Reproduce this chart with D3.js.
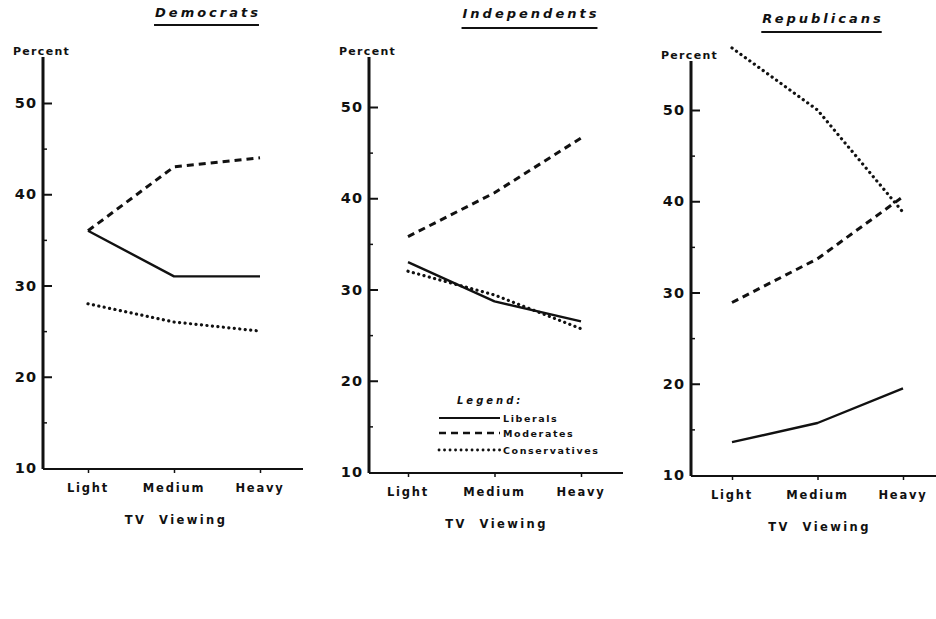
<!DOCTYPE html>
<html><head><meta charset="utf-8">
<script src="https://cdn.jsdelivr.net/npm/d3@7"></script>
<style>
html,body{margin:0;padding:0;background:#fff;}
svg{display:block;}
text{font-family:"DejaVu Sans",sans-serif;font-weight:bold;fill:#111;}
</style></head>
<body>
<svg id="c" width="936" height="619"></svg>
<script>
// ---- data ----
const categories = ["Light", "Medium", "Heavy"];
const panels = ["Democrats", "Independents", "Republicans"];
const seriesNames = ["Liberals", "Moderates", "Conservatives"];
const yTicks = [10, 20, 30, 40, 50];
const yMinorTicks = [15, 25, 35, 45];
// values per panel: [Light, Medium, Heavy]
const democratsLiberals = [36, 31, 31];
const democratsModerates = [36, 43, 44];
const democratsConservatives = [28, 26, 25];
const independentsLiberals = [33, 28.7, 26.5];
const independentsModerates = [35.8, 40.6, 46.6];
const independentsConservatives = [32, 29.4, 25.7];
const republicansLiberals = [13.6, 15.7, 19.5];
const republicansModerates = [28.9, 33.7, 40.5];
const republicansConservatives = [56.8, 50, 38.8];

const panelData = [
  [democratsLiberals, democratsModerates, democratsConservatives],
  [independentsLiberals, independentsModerates, independentsConservatives],
  [republicansLiberals, republicansModerates, republicansConservatives]
];

// ---- layout ----
const layout = [
  {ax: 43,  y10: 468, y50: 103, top: 57, xl: 88,  xh: 260, xend: 303, title:[208,17,25]},
  {ax: 369, y10: 472, y50: 107, top: 57, xl: 408, xh: 581, xend: 623, title:[531,18,28]},
  {ax: 691, y10: 475, y50: 110, top: 61, xl: 732, xh: 903, xend: 936, title:[823,23,32]}
];
const styles = [
  {w: 2.4, dash: null, cap: "butt"},
  {w: 3, dash: "7,5", cap: "butt"},
  {w: 3.2, dash: "0.1,5.4", cap: "round"}
];

const svg = d3.select("#c");

panels.forEach((name, i) => {
  const L = layout[i];
  const g = svg.append("g");
  const y = d3.scaleLinear().domain([10, 50]).range([L.y10, L.y50]);
  const x = d3.scalePoint().domain(categories).range([L.xl, L.xh]);

  // title
  const t = g.append("text").attr("x", L.title[0]).attr("y", L.title[1])
    .attr("text-anchor", "middle").attr("font-size", 13)
    .attr("font-style", "italic").attr("letter-spacing", 3).text(name);
  const bb = t.node().getBBox();
  g.append("line").attr("x1", bb.x - 1).attr("x2", bb.x + bb.width - 2)
    .attr("y1", L.title[2]).attr("y2", L.title[2])
    .attr("stroke", "#111").attr("stroke-width", 2);

  // y axis line
  g.append("line").attr("x1", L.ax).attr("x2", L.ax)
    .attr("y1", L.y10 + 1).attr("y2", L.top)
    .attr("stroke", "#111").attr("stroke-width", 3);
  // x axis line
  g.append("line").attr("x1", L.ax).attr("x2", L.xend)
    .attr("y1", L.y10 + 1).attr("y2", L.y10 + 1)
    .attr("stroke", "#111").attr("stroke-width", 2);

  // y ticks via d3 axis
  const yAxis = d3.axisRight(y).tickValues(yTicks).tickSize(9).tickFormat("");
  const ya = g.append("g").attr("transform", `translate(${L.ax},0)`).call(yAxis);
  ya.select(".domain").remove();
  ya.selectAll(".tick line").attr("stroke", "#111").attr("stroke-width", 2)
    .filter(d => d === 10).remove();
  const yMinor = d3.axisRight(y).tickValues(yMinorTicks).tickSize(4).tickFormat("");
  const ym = g.append("g").attr("transform", `translate(${L.ax},0)`).call(yMinor);
  ym.select(".domain").remove();
  ym.selectAll(".tick line").attr("stroke", "#111").attr("stroke-width", 1.5);

  g.selectAll(".ylab").data(yTicks).enter().append("text")
    .attr("x", L.ax - 6).attr("y", d => y(d) + 5)
    .attr("text-anchor", "end").attr("font-size", 14.5).attr("letter-spacing", 1)
    .text(d => d);

  g.append("text").attr("x", L.ax - 30).attr("y", L.top - 2)
    .attr("font-size", 11).attr("letter-spacing", 1.3).text("Percent");

  // x ticks
  const xAxis = d3.axisBottom(x).tickSize(4).tickFormat("");
  const xa = g.append("g").attr("transform", `translate(0,${L.y10 + 1})`).call(xAxis);
  xa.select(".domain").remove();
  xa.selectAll(".tick line").attr("stroke", "#111").attr("stroke-width", 1.5);

  g.selectAll(".xlab").data(categories).enter().append("text")
    .attr("x", d => x(d)).attr("y", L.y10 + 24)
    .attr("text-anchor", "middle").attr("font-size", 11.5).attr("letter-spacing", 1.8)
    .text(d => d);

  g.append("text").attr("x", (L.xl + L.xh) / 2 + 2).attr("y", L.y10 + 56)
    .attr("text-anchor", "middle").attr("font-size", 11.5).attr("letter-spacing", 2.4)
    .attr("xml:space", "preserve").text("TV  Viewing");

  // lines
  const line = d3.line().x((d, j) => x(categories[j])).y(d => y(d));
  panelData[i].forEach((vals, s) => {
    const st = styles[s];
    const p = g.append("path").attr("d", line(vals)).attr("fill", "none")
      .attr("stroke", "#111").attr("stroke-width", st.w)
      .attr("stroke-linecap", st.cap).attr("stroke-linejoin", "round");
    if (st.dash) p.attr("stroke-dasharray", st.dash);
  });

  // legend in Independents panel
  if (i === 1) {
    g.append("text").attr("x", 457).attr("y", 404).attr("font-size", 10)
      .attr("font-style", "italic").attr("letter-spacing", 3).text("Legend:");
    const ly = [418, 433, 450];
    seriesNames.forEach((n, s) => {
      const st = styles[s];
      const l = g.append("line").attr("x1", 439).attr("x2", 500)
        .attr("y1", ly[s]).attr("y2", ly[s]).attr("stroke", "#111")
        .attr("stroke-width", st.w - 0.4).attr("stroke-linecap", st.cap);
      if (st.dash) l.attr("stroke-dasharray", st.dash);
      g.append("text").attr("x", 503).attr("y", ly[s] + 4).attr("font-size", 9.5)
        .attr("letter-spacing", 1.6).text(n);
    });
  }
});
</script>
</body></html>
